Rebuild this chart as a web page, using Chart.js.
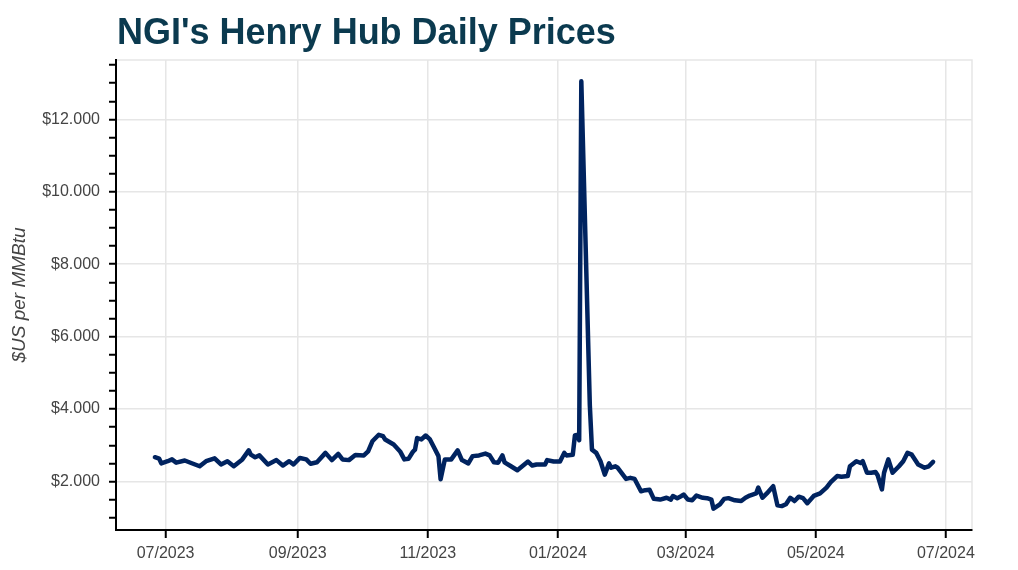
<!DOCTYPE html>
<html>
<head>
<meta charset="utf-8">
<script src="https://cdn.jsdelivr.net/npm/chart.js@4.4.1/dist/chart.umd.min.js"></script>
<style>
  html, body { margin: 0; padding: 0; background: #ffffff; }
  #wrap { width: 1018px; height: 570px; position: relative; }
  canvas { display: block; }
</style>
</head>
<body>
<div id="wrap"><canvas id="c" width="1018" height="570"></canvas></div>
<script>
const titleText = "NGI's Henry Hub Daily Prices";
const yAxisLabel = "$US per MMBtu";

const dates = [
  '2023-06-26','2023-06-28','2023-06-29','2023-07-02','2023-07-04','2023-07-06','2023-07-10','2023-07-13',
  '2023-07-17','2023-07-20','2023-07-24','2023-07-27','2023-07-30','2023-08-02','2023-08-06','2023-08-09',
  '2023-08-10','2023-08-12','2023-08-14','2023-08-18','2023-08-22','2023-08-25','2023-08-28','2023-08-30',
  '2023-09-02','2023-09-05','2023-09-07','2023-09-10','2023-09-14','2023-09-17','2023-09-20','2023-09-22',
  '2023-09-25','2023-09-28','2023-10-02','2023-10-04','2023-10-06','2023-10-09','2023-10-11','2023-10-12',
  '2023-10-16','2023-10-19','2023-10-21','2023-10-23','2023-10-25','2023-10-26','2023-10-27','2023-10-29',
  '2023-10-31','2023-11-02','2023-11-04','2023-11-06','2023-11-07','2023-11-09','2023-11-12','2023-11-15',
  '2023-11-17','2023-11-20','2023-11-22','2023-11-25','2023-11-28','2023-11-30','2023-12-02','2023-12-04',
  '2023-12-06','2023-12-07','2023-12-10','2023-12-13','2023-12-18','2023-12-20','2023-12-22','2023-12-26',
  '2023-12-27','2023-12-30','2024-01-02','2024-01-04','2024-01-05','2024-01-08','2024-01-09','2024-01-10',
  '2024-01-11','2024-01-12','2024-01-16','2024-01-17','2024-01-19','2024-01-21','2024-01-23','2024-01-25',
  '2024-01-26','2024-01-28','2024-01-29','2024-02-02','2024-02-04','2024-02-06','2024-02-09','2024-02-11',
  '2024-02-13','2024-02-15','2024-02-18','2024-02-21','2024-02-23','2024-02-24','2024-02-26','2024-02-28',
  '2024-02-29','2024-03-02','2024-03-04','2024-03-06','2024-03-09','2024-03-11','2024-03-13','2024-03-14',
  '2024-03-17','2024-03-19','2024-03-21','2024-03-24','2024-03-27','2024-03-29','2024-03-31','2024-04-03',
  '2024-04-04','2024-04-06','2024-04-08','2024-04-11','2024-04-13','2024-04-15','2024-04-17','2024-04-19',
  '2024-04-21','2024-04-23','2024-04-25','2024-04-27','2024-04-30','2024-05-03','2024-05-06','2024-05-08',
  '2024-05-11','2024-05-13','2024-05-16','2024-05-17','2024-05-20','2024-05-22','2024-05-23','2024-05-25',
  '2024-05-27','2024-05-29','2024-05-30','2024-06-01','2024-06-02','2024-06-04','2024-06-06','2024-06-09',
  '2024-06-11','2024-06-13','2024-06-15','2024-06-18','2024-06-21','2024-06-23','2024-06-25'
];

const prices = [
  2.67, 2.63, 2.50, 2.56, 2.61, 2.52, 2.58, 2.51,
  2.42, 2.56, 2.64, 2.47, 2.56, 2.42, 2.61, 2.86,
  2.74, 2.67, 2.72, 2.47, 2.59, 2.44, 2.56, 2.47,
  2.65, 2.61, 2.49, 2.53, 2.79, 2.59, 2.76, 2.61,
  2.59, 2.73, 2.72, 2.83, 3.11, 3.29, 3.25, 3.16,
  3.02, 2.83, 2.61, 2.63, 2.82, 2.88, 3.20, 3.16,
  3.27, 3.16, 2.93, 2.70, 2.06, 2.61, 2.61, 2.86,
  2.59, 2.50, 2.70, 2.72, 2.77, 2.72, 2.53, 2.52,
  2.72, 2.53, 2.42, 2.31, 2.55, 2.44, 2.47, 2.47,
  2.59, 2.55, 2.55, 2.79, 2.72, 2.74, 3.27, 3.29,
  3.14, 13.05, 4.10, 2.88, 2.79, 2.56, 2.19, 2.50,
  2.38, 2.42, 2.38, 2.07, 2.10, 2.07, 1.73, 1.76,
  1.77, 1.52, 1.50, 1.55, 1.50, 1.60, 1.54, 1.60,
  1.64, 1.50, 1.48, 1.61, 1.55, 1.54, 1.50, 1.25,
  1.37, 1.52, 1.54, 1.48, 1.46, 1.55, 1.61, 1.67,
  1.83, 1.55, 1.67, 1.87, 1.34, 1.32, 1.37, 1.55,
  1.46, 1.58, 1.54, 1.40, 1.60, 1.67, 1.83, 1.98,
  2.15, 2.13, 2.15, 2.42, 2.56, 2.51, 2.56, 2.24,
  2.24, 2.26, 2.17, 1.78, 2.24, 2.61, 2.24, 2.42,
  2.56, 2.79, 2.74, 2.47, 2.38, 2.42, 2.54
];

const xTickDates = ['2023-07-01','2023-09-01','2023-11-01','2024-01-01','2024-03-01','2024-05-01','2024-07-01'];
const yMajorStep = 2;
const yMinorStep = 0.5;

function toMs(s) { return new Date(s + 'T00:00:00Z').getTime(); }

const points = dates.map((d, i) => ({ x: toMs(d), y: prices[i] }));

const xs = points.map(p => p.x);
const ys = points.map(p => p.y);
const xSpan = Math.max(...xs) - Math.min(...xs);
const ySpan = Math.max(...ys) - Math.min(...ys);
const xMin = Math.min(...xs) - 0.05 * xSpan;
const xMax = Math.max(...xs) + 0.05 * xSpan;
const yMin = Math.min(...ys) - 0.05 * ySpan;
const yMax = Math.max(...ys) + 0.05 * ySpan;

const GRID = '#e6e6e6';
const TICKTXT = '#444444';

const titlePlugin = {
  id: 'titlePlugin',
  beforeDraw(chart) {
    const ctx = chart.ctx;
    ctx.save();
    ctx.font = 'bold 36px "Liberation Sans", Arial, sans-serif';
    ctx.fillStyle = '#0b3a4f';
    ctx.textBaseline = 'alphabetic';
    ctx.textAlign = 'left';
    ctx.fillText(titleText, 117, 44);
    ctx.restore();
  }
};

const framePlugin = {
  id: 'framePlugin',
  beforeDatasetsDraw(chart) {
    const a = chart.chartArea;
    const ctx = chart.ctx;
    ctx.save();
    ctx.strokeStyle = GRID;
    ctx.lineWidth = 1.5;
    ctx.beginPath();
    ctx.moveTo(a.left + 1, a.top);
    ctx.lineTo(a.right, a.top);
    ctx.lineTo(a.right, a.bottom - 1);
    ctx.stroke();
    ctx.restore();
  }
};

new Chart(document.getElementById('c'), {
  type: 'line',
  data: {
    datasets: [{
      data: points,
      borderColor: '#00235f',
      borderWidth: 4.5,
      pointRadius: 0,
      tension: 0,
      fill: false,
      borderJoinStyle: 'round',
      borderCapStyle: 'round'
    }]
  },
  options: {
    responsive: false,
    animation: false,
    devicePixelRatio: 1,
    layout: { padding: { top: 60, right: 46, left: 0, bottom: 0 } },
    plugins: {
      legend: { display: false },
      tooltip: { enabled: false },
      title: { display: false }
    },
    scales: {
      x: {
        type: 'linear',
        min: xMin,
        max: xMax,
        afterFit(scale) { scale.height = 40; },
        afterBuildTicks(scale) {
          scale.ticks = xTickDates.map(d => ({ value: toMs(d) }));
        },
        border: { display: true, color: '#000000', width: 2 },
        grid: {
          color: GRID,
          lineWidth: 1.5,
          drawTicks: true,
          tickLength: 8,
          tickColor: '#000000',
          tickWidth: 2
        },
        ticks: {
          autoSkip: false,
          maxRotation: 0,
          minRotation: 0,
          padding: 6,
          color: TICKTXT,
          font: { family: '"Liberation Sans", Arial, sans-serif', size: 16 },
          callback(value) {
            const dt = new Date(value);
            return String(dt.getUTCMonth() + 1).padStart(2, '0') + '/' + dt.getUTCFullYear();
          }
        }
      },
      y: {
        type: 'linear',
        min: yMin,
        max: yMax,
        afterFit(scale) { scale.width = 116; },
        afterBuildTicks(scale) {
          const t = [];
          for (let v = Math.ceil(yMin / yMinorStep) * yMinorStep; v <= yMax + 1e-9; v += yMinorStep) {
            t.push({ value: Math.round(v * 100) / 100 });
          }
          scale.ticks = t;
        },
        border: { display: true, color: '#000000', width: 2 },
        grid: {
          color: (c) => (c.tick && Math.abs(c.tick.value % yMajorStep) < 1e-9) ? GRID : 'rgba(0,0,0,0)',
          lineWidth: 1.5,
          drawTicks: true,
          tickLength: 7,
          tickColor: '#000000',
          tickWidth: 2
        },
        ticks: {
          autoSkip: false,
          padding: 9,
          color: TICKTXT,
          font: { family: '"Liberation Sans", Arial, sans-serif', size: 16 },
          callback(value) {
            return Math.abs(value % yMajorStep) < 1e-9 ? '$' + value.toFixed(3) : '';
          }
        },
        title: {
          display: true,
          text: yAxisLabel,
          color: TICKTXT,
          padding: { top: 8, bottom: 4 },
          font: { family: '"Liberation Sans", Arial, sans-serif', size: 19, style: 'italic' }
        }
      }
    }
  },
  plugins: [titlePlugin, framePlugin]
});
</script>
</body>
</html>
